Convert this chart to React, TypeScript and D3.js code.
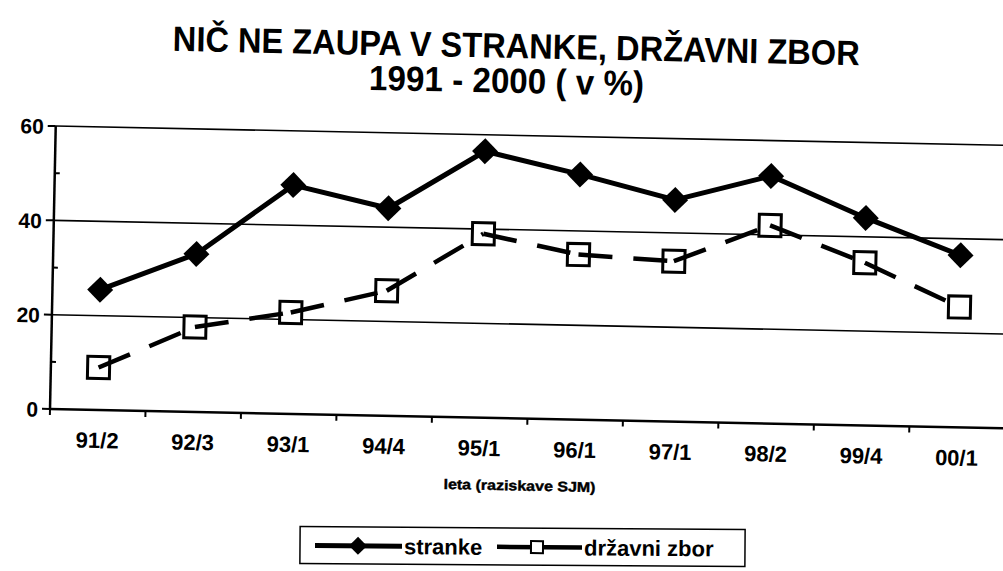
import React from 'react'
import * as d3 from 'd3'

const categories = ['91/2', '92/3', '93/1', '94/4', '95/1', '96/1', '97/1', '98/2', '99/4', '00/1']
const stranke = [25.5, 33.5, 48.5, 44, 56.5, 52, 47, 52.5, 44, 36.5]
const drzavniZbor = [9, 18, 21.5, 26.5, 39, 35, 34, 42, 34.5, 25.5]
const yTicks = [0, 20, 40, 60]
const yMinorTicks = [10, 30, 50]

const titleLines = ['NIČ NE ZAUPA V STRANKE, DRŽAVNI ZBOR', '1991 - 2000 ( v %)']
const xTitle = 'leta (raziskave SJM)'
const seriesNames = ['stranke', 'državni zbor']

const font = '"Liberation Sans", Arial, sans-serif'
const narrow = '"Liberation Sans Narrow", "Arial Narrow", "Liberation Sans", sans-serif'

const origin = { x: 50, y: 409 }
const tilt = 1.16

const diamond = (r: number) => `M0,${-r}L${r},0L0,${r}L${-r},0Z`

const App = () => {
  const x = d3.scaleBand().domain(categories).range([origin.x, 1005])
  const y = d3.scaleLinear().domain([0, 60]).range([origin.y, 126])
  const cx = (c: string) => (x(c) as number) + x.bandwidth() / 2

  const line = d3
    .line<number>()
    .x((d, i) => cx(categories[i]))
    .y((d) => y(d))

  // each dashed segment restarts its dash pattern at the point, as in the scan
  const zborSegments = drzavniZbor.slice(1).map((v, i) =>
    d3.line()([
      [cx(categories[i]), y(drzavniZbor[i])],
      [cx(categories[i + 1]), y(v)]
    ])
  )

  return (
    <svg width={1003} height={571} style={{ position: 'absolute', left: 0, top: 0, background: '#fff' }}>
      <rect width={1003} height={571} fill="#fff" />

      {/* title */}
      <g transform="rotate(1.2 516 60)" fontFamily={narrow} fontWeight="bold" textAnchor="middle" fill="#000">
        <text x={516} y={58} fontSize={35} textLength={687} lengthAdjust="spacingAndGlyphs">
          {titleLines[0]}
        </text>
        <text x={507} y={93} fontSize={35} textLength={275} lengthAdjust="spacingAndGlyphs">
          {titleLines[1]}
        </text>
      </g>

      {/* plot */}
      <g transform={`rotate(${tilt} ${origin.x} ${origin.y})`}>
        <g stroke="#000" strokeWidth={1.6}>
          {yTicks.slice(1).map((t) => (
            <line key={t} x1={origin.x} x2={1060} y1={y(t)} y2={y(t)} />
          ))}
        </g>

        {/* y axis */}
        <line x1={origin.x} x2={origin.x} y1={y(60)} y2={origin.y} stroke="#000" strokeWidth={2.5} />
        <g stroke="#000" strokeWidth={2}>
          {yTicks.map((t) => (
            <line key={t} x1={origin.x - 8} x2={origin.x} y1={y(t)} y2={y(t)} />
          ))}
          {yMinorTicks.map((t) => (
            <line key={t} x1={origin.x} x2={origin.x + 5} y1={y(t)} y2={y(t)} />
          ))}
        </g>
        <g fontFamily={font} fontWeight="bold" fontSize={21} textAnchor="end">
          {yTicks.map((t) => (
            <text key={t} x={origin.x - 12} y={y(t) + 8}>
              {t}
            </text>
          ))}
        </g>

        {/* x axis */}
        <line x1={origin.x} x2={1060} y1={origin.y} y2={origin.y} stroke="#000" strokeWidth={2.5} />
        <g stroke="#000" strokeWidth={2}>
          {categories.map((c) => (
            <line key={c} x1={x(c)} x2={x(c)} y1={origin.y} y2={origin.y + 6} />
          ))}
        </g>
        <g fontFamily={font} fontWeight="bold" fontSize={22} textAnchor="middle">
          {categories.map((c) => (
            <text key={c} x={cx(c)} y={origin.y + 38}>
              {c}
            </text>
          ))}
        </g>
        <text
          x={521}
          y={origin.y + 72}
          fontFamily={font}
          fontWeight="bold"
          fontSize={14}
          textAnchor="middle"
          textLength={152}
          lengthAdjust="spacingAndGlyphs"
          stroke="#000"
          strokeWidth={0.4}
        >
          {xTitle}
        </text>

        {/* državni zbor */}
        {categories.map((c, i) => (
          <rect
            key={c}
            x={cx(c) - 11}
            y={y(drzavniZbor[i]) - 11}
            width={22}
            height={22}
            fill="#fff"
            stroke="#000"
            strokeWidth={3}
          />
        ))}
        <g fill="none" stroke="#000" strokeWidth={4.5} strokeDasharray="34 21">
          {zborSegments.map((d, i) => (
            <path key={i} d={d as string} />
          ))}
        </g>

        {/* stranke */}
        <path d={line(stranke) as string} fill="none" stroke="#000" strokeWidth={5} strokeLinejoin="round" />
        {categories.map((c, i) => (
          <path key={c} d={diamond(13)} transform={`translate(${cx(c)},${y(stranke[i])})`} fill="#000" />
        ))}
      </g>

      {/* legend */}
      <g transform="rotate(0.4 522 547)">
        <rect x={300} y={528} width={445} height={37} fill="#fff" stroke="#000" strokeWidth={1.5} />
        <line x1={315} x2={402} y1={547} y2={547} stroke="#000" strokeWidth={5} />
        <path d={diamond(9)} transform="translate(358,547)" fill="#000" />
        <text x={404} y={555} fontFamily={font} fontWeight="bold" fontSize={22}>
          {seriesNames[0]}
        </text>
        <line x1={497} x2={582} y1={547} y2={547} stroke="#000" strokeWidth={4.5} />
        <rect x={531} y={541} width={12} height={12} fill="#fff" stroke="#000" strokeWidth={2} />
        <text x={584} y={555} fontFamily={font} fontWeight="bold" fontSize={22}>
          {seriesNames[1]}
        </text>
      </g>
    </svg>
  )
}

export default App
